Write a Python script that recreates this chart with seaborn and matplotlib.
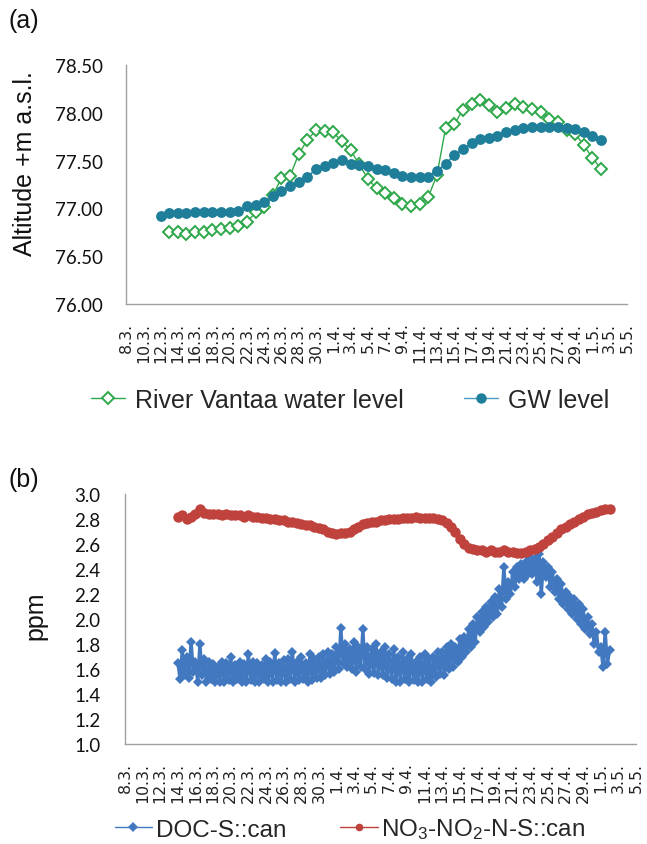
import matplotlib
matplotlib.use("Agg")
import matplotlib.pyplot as plt
from matplotlib.lines import Line2D
import seaborn as sns
import pandas as pd

# ---------------- data ----------------
tick_labels = ["8.3.", "10.3.", "12.3.", "14.3.", "16.3.", "18.3.", "20.3.", "22.3.",
               "24.3.", "26.3.", "28.3.", "30.3.", "1.4.", "3.4.", "5.4.", "7.4.",
               "9.4.", "11.4.", "13.4.", "15.4.", "17.4.", "19.4.", "21.4.", "23.4.",
               "25.4.", "27.4.", "29.4.", "1.5.", "3.5.", "5.5."]

# (a) daily values, GW from 12.3., river from 13.3.
gw_level = [76.92, 76.95, 76.95, 76.95, 76.96, 76.96, 76.96, 76.965, 76.965, 76.97,
            77.02, 77.04, 77.07, 77.125, 77.18, 77.23, 77.28, 77.33, 77.41, 77.44,
            77.47, 77.51, 77.465, 77.45, 77.44, 77.41, 77.40, 77.37, 77.34, 77.33,
            77.33, 77.33, 77.39, 77.465, 77.56, 77.62, 77.68, 77.73, 77.74, 77.76,
            77.795, 77.82, 77.84, 77.85, 77.85, 77.85, 77.85, 77.845, 77.83, 77.795,
            77.76, 77.72]
river_level = [76.75, 76.75, 76.73, 76.75, 76.75, 76.77, 76.785, 76.80, 76.82, 76.855,
               76.96, 77.01, 77.135, 77.32, 77.34, 77.57, 77.715, 77.82, 77.81, 77.795,
               77.70, 77.61, 77.46, 77.31, 77.21, 77.16, 77.11, 77.05, 77.03, 77.05,
               77.12, 77.35, 77.84, 77.88, 78.03, 78.09, 78.135, 78.08, 78.01, 78.045,
               78.09, 78.06, 78.04, 78.01, 77.94, 77.90, 77.82, 77.78, 77.66, 77.53,
               77.41]

# (b) DOC every 6 h from 14.3.
doc = [1.65, 1.52, 1.75, 1.55,  1.70, 1.53, 1.82, 1.58,  1.66, 1.50, 1.80, 1.55,
       1.68, 1.50, 1.66, 1.52,  1.64, 1.50, 1.62, 1.50,  1.66, 1.50, 1.65, 1.51,
       1.70, 1.50, 1.63, 1.52,  1.66, 1.50, 1.64, 1.50,  1.72, 1.51, 1.66, 1.50,
       1.65, 1.50, 1.63, 1.52,  1.68, 1.50, 1.66, 1.50,  1.73, 1.51, 1.65, 1.50,
       1.67, 1.50, 1.68, 1.52,  1.74, 1.50, 1.66, 1.51,  1.70, 1.52, 1.65, 1.50,
       1.72, 1.51, 1.68, 1.53,  1.70, 1.53, 1.72, 1.55,  1.74, 1.56, 1.72, 1.58,
       1.78, 1.60, 1.93, 1.65,  1.80, 1.62, 1.76, 1.60,  1.82, 1.58, 1.78, 1.62,
       1.92, 1.60, 1.78, 1.56,  1.76, 1.57, 1.80, 1.55,  1.74, 1.55, 1.78, 1.53,
       1.72, 1.52, 1.76, 1.50,  1.70, 1.50, 1.74, 1.52,  1.68, 1.50, 1.72, 1.51,
       1.66, 1.50, 1.70, 1.50,  1.72, 1.52, 1.68, 1.50,  1.70, 1.54, 1.74, 1.56,
       1.74, 1.55, 1.78, 1.60,  1.80, 1.62, 1.78, 1.66,  1.84, 1.70, 1.86, 1.74,
       1.92, 1.78, 1.96, 1.82,  2.02, 1.90, 2.06, 1.94,  2.10, 1.98, 2.14, 2.02,
       2.18, 2.04, 2.24, 2.10,  2.42, 2.16, 2.30, 2.20,  2.38, 2.26, 2.42, 2.32,
       2.44, 2.32, 2.46, 2.36,  2.50, 2.36, 2.48, 2.30,  2.52, 2.20, 2.46, 2.34,
       2.42, 2.26, 2.38, 2.22,  2.32, 2.16, 2.28, 2.12,  2.22, 2.08, 2.18, 2.04,
       2.16, 2.00, 2.12, 1.96,  2.08, 1.92, 2.02, 1.88,  1.96, 1.80, 1.90, 1.74,
       1.78, 1.62, 1.90, 1.64,  1.75]

# (b) NO3-NO2-N every 12 h from 14.3.
no3 = [2.82, 2.83, 2.80, 2.82, 2.84, 2.88, 2.85, 2.84, 2.84, 2.84, 2.83, 2.84,
       2.83, 2.83, 2.83, 2.82, 2.83, 2.82, 2.82, 2.81, 2.81, 2.80, 2.80, 2.79,
       2.79, 2.78, 2.78, 2.77, 2.76, 2.75, 2.75, 2.74, 2.73, 2.72, 2.70, 2.69,
       2.68, 2.69, 2.69, 2.70, 2.72, 2.74, 2.76, 2.77, 2.78, 2.78, 2.79, 2.79,
       2.80, 2.80, 2.80, 2.81, 2.81, 2.81, 2.82, 2.81, 2.81, 2.81, 2.81, 2.80,
       2.79, 2.77, 2.74, 2.70, 2.64, 2.60, 2.57, 2.56, 2.55, 2.55, 2.54, 2.55,
       2.54, 2.54, 2.55, 2.54, 2.54, 2.53, 2.53, 2.54, 2.55, 2.56, 2.58, 2.60,
       2.63, 2.66, 2.69, 2.72, 2.74, 2.76, 2.78, 2.80, 2.82, 2.84, 2.85, 2.86,
       2.87, 2.88, 2.88]

tick_dates = pd.date_range("2013-03-08", periods=len(tick_labels), freq="2D")
gw_dates = pd.date_range("2013-03-12", periods=len(gw_level), freq="D")
river_dates = pd.date_range("2013-03-13", periods=len(river_level), freq="D")
doc_dates = pd.date_range("2013-03-14", periods=len(doc), freq="6h")
no3_dates = pd.date_range("2013-03-14", periods=len(no3), freq="12h")

# ---------------- style ----------------
sns.set_style("white")
plt.rcParams["font.family"] = ["Liberation Sans", "DejaVu Sans"]
plt.rcParams["mathtext.default"] = "regular"

W, H = 647, 845
fig = plt.figure(figsize=(W / 100, H / 100), dpi=100)

def px_axes(l, t, r, b):
    return fig.add_axes([l / W, 1 - b / H, (r - l) / W, (b - t) / H])

axis_grey = "#A0A0A0"
green = "#2EA84A"
teal = "#1F7E99"
blue = "#4178C0"
red = "#BF423D"

def style_axes(ax, yticks, fmt, ypad):
    for s in ["top", "right"]:
        ax.spines[s].set_visible(False)
    for s in ["left", "bottom"]:
        ax.spines[s].set_color(axis_grey)
        ax.spines[s].set_linewidth(1.0)
    ax.set_xlim(tick_dates[0], tick_dates[-1])
    ax.set_xticks(tick_dates)
    ax.set_xticklabels(tick_labels)
    ax.set_yticks(yticks)
    ax.set_yticklabels([fmt.format(v) for v in yticks])
    ax.tick_params(axis="x", direction="out", length=4, width=1, color=axis_grey, pad=9,
                   labelsize=11.3, labelrotation=90, labelcolor="#222222",
                   labelfontfamily="DejaVu Sans")
    ax.tick_params(axis="y", direction="out", length=5.5, width=1, color=axis_grey, pad=ypad,
                   labelsize=13.5, labelcolor="#111111", labelfontfamily="Lato")
    ax.set_xlabel("")
    ax.set_ylabel("")
    ax.grid(False)

# ---------------- (a) ----------------
ax1 = px_axes(126, 66, 627, 305)
sns.lineplot(x=river_dates, y=river_level, ax=ax1, color=green, linewidth=1.0,
             marker="D", markersize=6.5, markerfacecolor="white",
             markeredgecolor=green, markeredgewidth=1.4, zorder=2)
sns.lineplot(x=gw_dates, y=gw_level, ax=ax1, color=teal, linewidth=1.0,
             marker="o", markersize=7.8, markeredgewidth=0, zorder=3)
ax1.set_ylim(76.0, 78.5)
style_axes(ax1, [76.0, 76.5, 77.0, 77.5, 78.0, 78.5], "{:.2f}", 11)
h1 = [Line2D([], [], color=green, linewidth=1.0, marker="D", markersize=6,
             markerfacecolor="white", markeredgecolor=green, markeredgewidth=1.4),
      Line2D([], [], color="#4A9CC0", linewidth=1.0, marker="o", markersize=7.5,
             markerfacecolor=teal, markeredgewidth=0)]
l1 = ["River Vantaa water level", "GW level"]
fig.legend(h1, l1, loc="center", bbox_to_anchor=(350 / W, 1 - 401 / H), ncol=2,
           frameon=False, fontsize=18, handlelength=1.35, handletextpad=0.4,
           columnspacing=2.4, borderpad=0, borderaxespad=0)

fig.text(25 / W, 1 - 164 / H, "Altitude +m a.s.l.", rotation=90, fontsize=18,
         ha="center", va="center", color="#111111")
fig.text(8 / W, 1 - 21 / H, "(a)", fontsize=18, ha="left", va="center", color="#111111")

# ---------------- (b) ----------------
ax2 = px_axes(125, 495, 636, 745)
sns.lineplot(x=doc_dates, y=doc, ax=ax2, color=blue, linewidth=2.4,
             marker="D", markersize=5, markeredgewidth=0, zorder=2)
sns.lineplot(x=no3_dates, y=no3, ax=ax2, color=red, linewidth=1.0,
             marker="o", markersize=7.5, markeredgewidth=0, zorder=3)
ax2.set_ylim(1.0, 3.0)
style_axes(ax2, [1.0, 1.2, 1.4, 1.6, 1.8, 2.0, 2.2, 2.4, 2.6, 2.8, 3.0], "{:.1f}", 12)
h2 = [Line2D([], [], color=blue, linewidth=1.0, marker="D", markersize=5,
             markeredgewidth=0),
      Line2D([], [], color=red, linewidth=1.0, marker="o", markersize=5.5,
             markeredgewidth=0)]
l2 = ["DOC-S::can", r"NO$_3$-NO$_2$-N-S::can"]
fig.legend(h2, l2, loc="center", bbox_to_anchor=(350 / W, 1 - 830 / H), ncol=2,
           frameon=False, fontsize=17.5, handlelength=1.55, handletextpad=0.15,
           columnspacing=2.2, borderpad=0, borderaxespad=0)

fig.text(35 / W, 1 - 616 / H, "ppm", rotation=90, fontsize=18,
         ha="center", va="center", color="#111111")
fig.text(8 / W, 1 - 480 / H, "(b)", fontsize=18, ha="left", va="center", color="#111111")

fig.savefig("out.png", dpi=100)
